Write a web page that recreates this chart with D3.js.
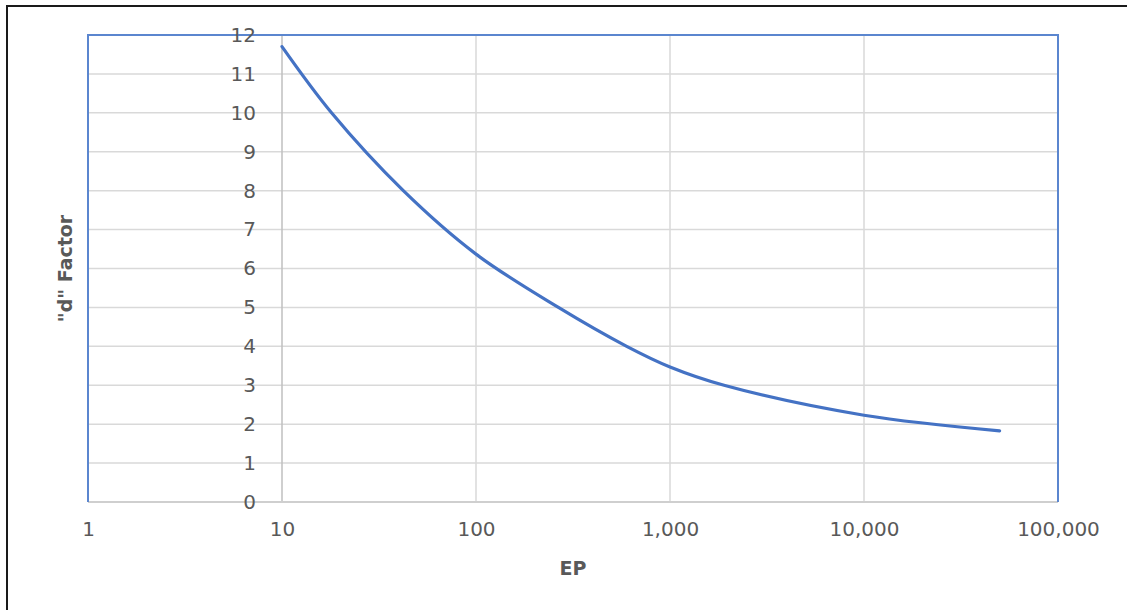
<!DOCTYPE html>
<html>
<head>
<meta charset="utf-8">
<script src="https://cdn.jsdelivr.net/npm/d3@7"></script>
<style>
  html, body { margin: 0; padding: 0; background: #fff; }
  svg text { font-family: "DejaVu Sans", sans-serif; }
</style>
</head>
<body>
<div id="chart"></div>
<script>
// values
var ep      = [10, 18, 42.2, 100, 266, 598, 1000, 1900, 10000, 50000];
var dFactor = [11.7, 10, 8, 6.37, 5, 4, 3.47, 3, 2.23, 1.83];
var xTicks  = [1, 10, 100, 1000, 10000, 100000];
var yTicks  = [0, 1, 2, 3, 4, 5, 6, 7, 8, 9, 10, 11, 12];

var width = 1127, height = 610;
var plot = { left: 88, right: 1058, top: 35, bottom: 502 };

var svg = d3.select("#chart").append("svg")
    .attr("width", width)
    .attr("height", height);

// outer chart frame
svg.append("rect")
    .attr("x", 7).attr("y", 6)
    .attr("width", width).attr("height", height)
    .attr("fill", "none")
    .attr("stroke", "#1a1a1a")
    .attr("stroke-width", 2);

var x = d3.scaleLog().domain([1, 100000]).range([plot.left, plot.right]);
var y = d3.scaleLinear().domain([0, 12]).range([plot.bottom, plot.top]);

// horizontal gridlines
svg.append("g").attr("class", "grid-y")
  .selectAll("line")
  .data(yTicks.filter(function(d) { return d > 0 && d < 12; }))
  .enter().append("line")
    .attr("x1", plot.left).attr("x2", plot.right)
    .attr("y1", function(d) { return y(d); })
    .attr("y2", function(d) { return y(d); })
    .attr("stroke", "#d9d9d9")
    .attr("stroke-width", 1.5);

// vertical gridlines
svg.append("g").attr("class", "grid-x")
  .selectAll("line")
  .data([100, 1000, 10000])
  .enter().append("line")
    .attr("x1", function(d) { return x(d); })
    .attr("x2", function(d) { return x(d); })
    .attr("y1", plot.top).attr("y2", plot.bottom)
    .attr("stroke", "#d9d9d9")
    .attr("stroke-width", 1.5);

// value axis crosses at EP = 10
svg.append("line")
    .attr("x1", x(10)).attr("x2", x(10))
    .attr("y1", plot.top).attr("y2", plot.bottom)
    .attr("stroke", "#bfbfbf")
    .attr("stroke-width", 1.5);

// category axis line
svg.append("line")
    .attr("x1", plot.left).attr("x2", plot.right)
    .attr("y1", plot.bottom).attr("y2", plot.bottom)
    .attr("stroke", "#cfcfcf")
    .attr("stroke-width", 2);

// plot area border (blue, left/top/right)
svg.append("path")
    .attr("d", "M" + plot.left + "," + plot.bottom +
               "V" + plot.top + "H" + plot.right + "V" + plot.bottom)
    .attr("fill", "none")
    .attr("stroke", "#5b86cf")
    .attr("stroke-width", 2);

// y axis labels
var yAxis = svg.append("g")
    .attr("transform", "translate(" + x(10) + ",0)")
    .call(d3.axisLeft(y).tickValues(yTicks).tickSize(0).tickPadding(26));
yAxis.select(".domain").remove();
yAxis.selectAll("text")
    .attr("fill", "#595959")
    .style("font-size", "20px");

// x axis labels
var xAxis = svg.append("g")
    .attr("transform", "translate(0," + plot.bottom + ")")
    .call(d3.axisBottom(x).tickValues(xTicks).tickFormat(d3.format(",")).tickSize(0).tickPadding(20));
xAxis.select(".domain").remove();
xAxis.selectAll("text")
    .attr("fill", "#595959")
    .style("font-size", "20px");

// the curve (smoothed like the spreadsheet's scatter line)
var line = d3.line()
    .curve(d3.curveCatmullRom.alpha(0.5))
    .x(function(d, i) { return x(ep[i]); })
    .y(function(d) { return y(d); });

svg.append("path")
    .datum(dFactor)
    .attr("d", line)
    .attr("fill", "none")
    .attr("stroke", "#4472c4")
    .attr("stroke-width", 3.2)
    .attr("stroke-linecap", "round");

// axis titles
svg.append("text")
    .attr("x", (plot.left + plot.right) / 2)
    .attr("y", 568)
    .attr("dy", "0.35em")
    .attr("text-anchor", "middle")
    .attr("fill", "#595959")
    .style("font-size", "19px")
    .style("font-weight", "bold")
    .text("EP");

svg.append("text")
    .attr("transform", "translate(65," + ((plot.top + plot.bottom) / 2) + ")rotate(-90)")
    .attr("dy", "0.35em")
    .attr("text-anchor", "middle")
    .attr("fill", "#595959")
    .style("font-size", "19px")
    .style("font-weight", "bold")
    .text('"d" Factor');
</script>
</body>
</html>
